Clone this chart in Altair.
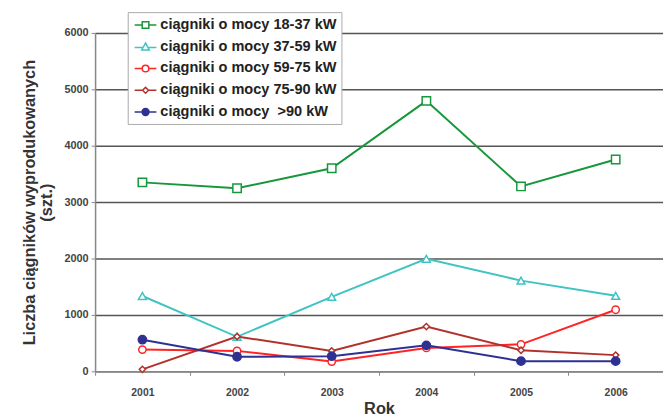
import altair as alt
import pandas as pd

years = ["2001", "2002", "2003", "2004", "2005", "2006"]
series = [
    "ciągniki o mocy 18-37 kW",
    "ciągniki o mocy 37-59 kW",
    "ciągniki o mocy 59-75 kW",
    "ciągniki o mocy 75-90 kW",
    "ciągniki o mocy \u00a0>90 kW",
]
v_18_37 = [3350, 3245, 3600, 4795, 3278, 3755]
v_37_59 = [1335, 612, 1320, 1995, 1608, 1338]
v_59_75 = [385, 362, 172, 415, 478, 1092]
v_75_90 = [35, 617, 362, 793, 373, 287]
v_90 = [560, 258, 268, 460, 180, 180]

values = [v_18_37, v_37_59, v_59_75, v_75_90, v_90]
rows = []
for s, vals in zip(series, values):
    for y, v in zip(years, vals):
        rows.append({"Rok": y, "seria": s, "wartosc": v})
df = pd.DataFrame(rows)

colors = ["#17973c", "#3fc3c3", "#ff2424", "#b3312b", "#2e3192"]
fills = ["white", "white", "white", "white", "#2e3192"]
plain_shapes = ["square", "triangle-up", "circle", "diamond", "circle"]
plain_sizes = [72, 64, 55, 40, 70]
legend_shapes = [
    "M-1.57,0H-0.48M0.48,0H1.57M-0.48,-0.48H0.48V0.48H-0.48Z",
    "M-1.57,0.1H-0.3M0.3,0.1H1.57M0,-0.55L0.55,0.45L-0.55,0.45Z",
    "M-1.57,0H-0.48M0.48,0H1.57M-0.48,0A0.48,0.48 0 1,0 0.48,0A0.48,0.48 0 1,0 -0.48,0Z",
    "M-1.57,0H-0.42M0.42,0H1.57M0,-0.42L0.42,0L0,0.42L-0.42,0Z",
    "M-1.57,0H-0.5M0.5,0H1.57M-0.5,0A0.5,0.5 0 1,0 0.5,0A0.5,0.5 0 1,0 -0.5,0Z",
]

FONT = "Liberation Sans"

x_enc = alt.X(
    "Rok:N",
    sort=years,
    scale=alt.Scale(domain=years, paddingInner=0, paddingOuter=0),
    axis=alt.Axis(
        title="Rok",
        labelAngle=0,
        tickBand="extent",
        grid=False,
        domainColor="#888888",
        domainWidth=1.5,
        tickColor="#888888",
        tickSize=4,
        labelFont=FONT,
        labelFontSize=10.5,
        labelFontWeight="bold",
        labelColor="#444444",
        labelPadding=12,
        titleFont=FONT,
        titleFontSize=16.5,
        titleFontWeight="bold",
        titleColor="#333333",
        titlePadding=3,
    ),
)
y_enc = alt.Y(
    "wartosc:Q",
    scale=alt.Scale(domain=[0, 6000], nice=False),
    axis=alt.Axis(
        title=["Liczba ciągników wyprodukowanych", "(szt.)"],
        values=[0, 1000, 2000, 3000, 4000, 5000, 6000],
        format="d",
        grid=True,
        gridColor="#555555",
        gridWidth=1.5,
        domainColor="#888888",
        domainWidth=1.5,
        tickColor="#888888",
        tickSize=4,
        labelFont=FONT,
        labelFontSize=11,
        labelFontWeight="bold",
        labelColor="#444444",
        labelPadding=3,
        titleFont=FONT,
        titleFontSize=16.5,
        titleFontWeight="bold",
        titleColor="#333333",
        titlePadding=10,
        titleLineHeight=17,
    ),
)

leg = alt.Legend(
    orient="none",
    legendX=33,
    legendY=-21,
    fillColor="white",
    strokeColor="#aaaaaa",
    padding=5,
    rowPadding=7,
    labelFont=FONT,
    labelFontSize=14.7,
    labelFontWeight="bold",
    labelColor="#222222",
    labelOffset=7,
    symbolOffset=5,
    symbolSize=196,
    symbolStrokeWidth=1.5,
    labelLimit=400,
)

base = alt.Chart(df)

layers = []
for s, col in zip(series, colors):
    sub = base.transform_filter(alt.datum.seria == s)
    layers.append(
        sub.mark_line(strokeWidth=2, color=col).encode(x=x_enc, y=y_enc)
    )
for s, col, fl, shp, sz in zip(series, colors, fills, plain_shapes, plain_sizes):
    sub = base.transform_filter(alt.datum.seria == s)
    layers.append(
        sub.mark_point(
            filled=False, shape=shp, size=sz, strokeWidth=1.5, opacity=1,
            color=col, fill=fl,
        ).encode(x=x_enc, y=y_enc)
    )

# legend-only layer: no rows survive the filter, scales keep explicit domains
legend_layer = (
    base.transform_filter(alt.datum.wartosc < 0)
    .mark_point(filled=False, opacity=1)
    .encode(
        x=x_enc,
        y=y_enc,
        color=alt.Color("seria:N", scale=alt.Scale(domain=series, range=colors), title=None, legend=leg),
        fill=alt.Fill("seria:N", scale=alt.Scale(domain=series, range=fills), title=None, legend=leg),
        shape=alt.Shape("seria:N", scale=alt.Scale(domain=series, range=legend_shapes), title=None, legend=leg),
    )
)
layers.append(legend_layer)

chart = (
    alt.layer(*layers)
    .properties(
        width=574,
        height=342,
        autosize=alt.AutoSizeParams(type="none"),
        padding={"left": 88, "top": 23, "right": 0, "bottom": 44},
    )
    .configure_view(stroke=None)
    .configure(background="white")
)

chart.save("out.html", embed_options={"renderer": "svg", "actions": False})
